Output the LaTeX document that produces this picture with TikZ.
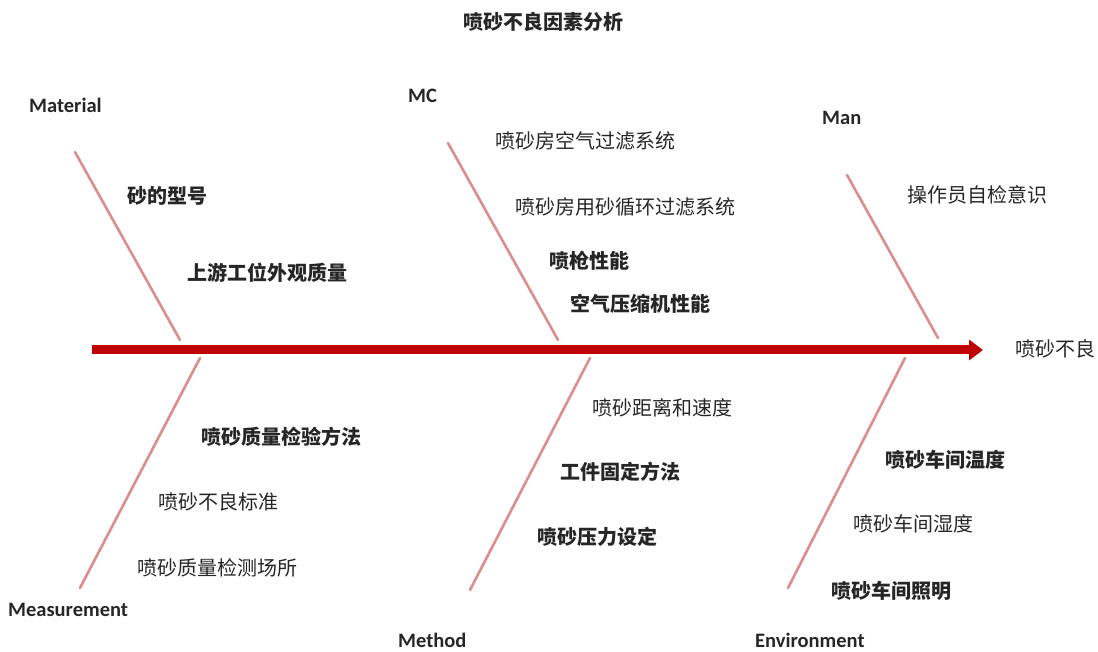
\documentclass[tikz,border=0pt]{standalone}
\usepackage{fontspec}
\newfontfamily\cjk{Noto Sans CJK SC}
\newfontfamily\lat{Carlito}
\usetikzlibrary{arrows.meta}
\definecolor{spinered}{HTML}{C00000}
\definecolor{bonepink}{HTML}{DC8E8E}
\definecolor{txt}{HTML}{262626}
\tikzset{
  spine/.style={draw=spinered, line width=9pt, -{Triangle[length=14pt,width=20pt]}},
  bone/.style={draw=bonepink, line width=2.6pt, line cap=round},
  cat/.style={font=\lat\bfseries\fontsize{20.5}{24}\selectfont, text=txt, inner sep=0pt, anchor=west},
  cause/.style={font=\cjk\fontsize{20}{24}\selectfont, text=txt, inner sep=0pt, anchor=west},
  causeb/.style={font=\cjk\bfseries\fontsize{20}{24}\selectfont, text=txt, inner sep=0pt, anchor=west},
}
\begin{document}
\begin{tikzpicture}[x=1pt,y=-1pt]
\useasboundingbox (0,0) rectangle (1098,652);
% title
\node[causeb, anchor=center] (title) at (543,22) {喷砂不良因素分析};
% spine
\coordinate (tail) at (92,350);
\coordinate (head) at (983,350);
\draw[spine] (tail) -- (head);
\node[cause] (effect) at (1015,349) {喷砂不良};
% bone ends
\coordinate (matT) at (75,152);  \coordinate (matB) at (180,340);
\coordinate (mcT) at (448,143);  \coordinate (mcB) at (558,340);
\coordinate (manT) at (847,175); \coordinate (manB) at (938,338);
\coordinate (meaT) at (200,358); \coordinate (meaB) at (80,588);
\coordinate (metT) at (590,358); \coordinate (metB) at (470,590);
\coordinate (envT) at (905,358); \coordinate (envB) at (788,588);
\draw[bone] (matT) -- (matB);
\draw[bone] (mcT) -- (mcB);
\draw[bone] (manT) -- (manB);
\draw[bone] (meaT) -- (meaB);
\draw[bone] (metT) -- (metB);
\draw[bone] (envT) -- (envB);
% categories
\node[cat] (material) at (29,105) {Material};
\node[cat] (mc) at (408,96) {MC};
\node[cat] (man) at (822,118) {Man};
\node[cat] (measurement) at (8,610) {Measurement};
\node[cat] (method) at (398,640) {Method};
\node[cat] (environment) at (755,640) {Environment};
% causes: Material
\node[causeb] (c1) at (127,196) {砂的型号};
\node[causeb] (c2) at (187,273) {上游工位外观质量};
% MC
\node[cause] (c3) at (495,141) {喷砂房空气过滤系统};
\node[cause] (c4) at (515,207) {喷砂房用砂循环过滤系统};
\node[causeb] (c5) at (549,261) {喷枪性能};
\node[causeb] (c6) at (570,304) {空气压缩机性能};
% Man
\node[cause] (c7) at (907,195) {操作员自检意识};
% Measurement
\node[causeb] (c8) at (201,437) {喷砂质量检验方法};
\node[cause] (c9) at (158,502) {喷砂不良标准};
\node[cause] (c10) at (137,568) {喷砂质量检测场所};
% Method
\node[cause] (c11) at (592,408) {喷砂距离和速度};
\node[causeb] (c12) at (560,472) {工件固定方法};
\node[causeb] (c13) at (537,537) {喷砂压力设定};
% Environment
\node[causeb] (c14) at (885,460) {喷砂车间温度};
\node[cause] (c15) at (853,524) {喷砂车间湿度};
\node[causeb] (c16) at (831,591) {喷砂车间照明};
\end{tikzpicture}
\end{document}
